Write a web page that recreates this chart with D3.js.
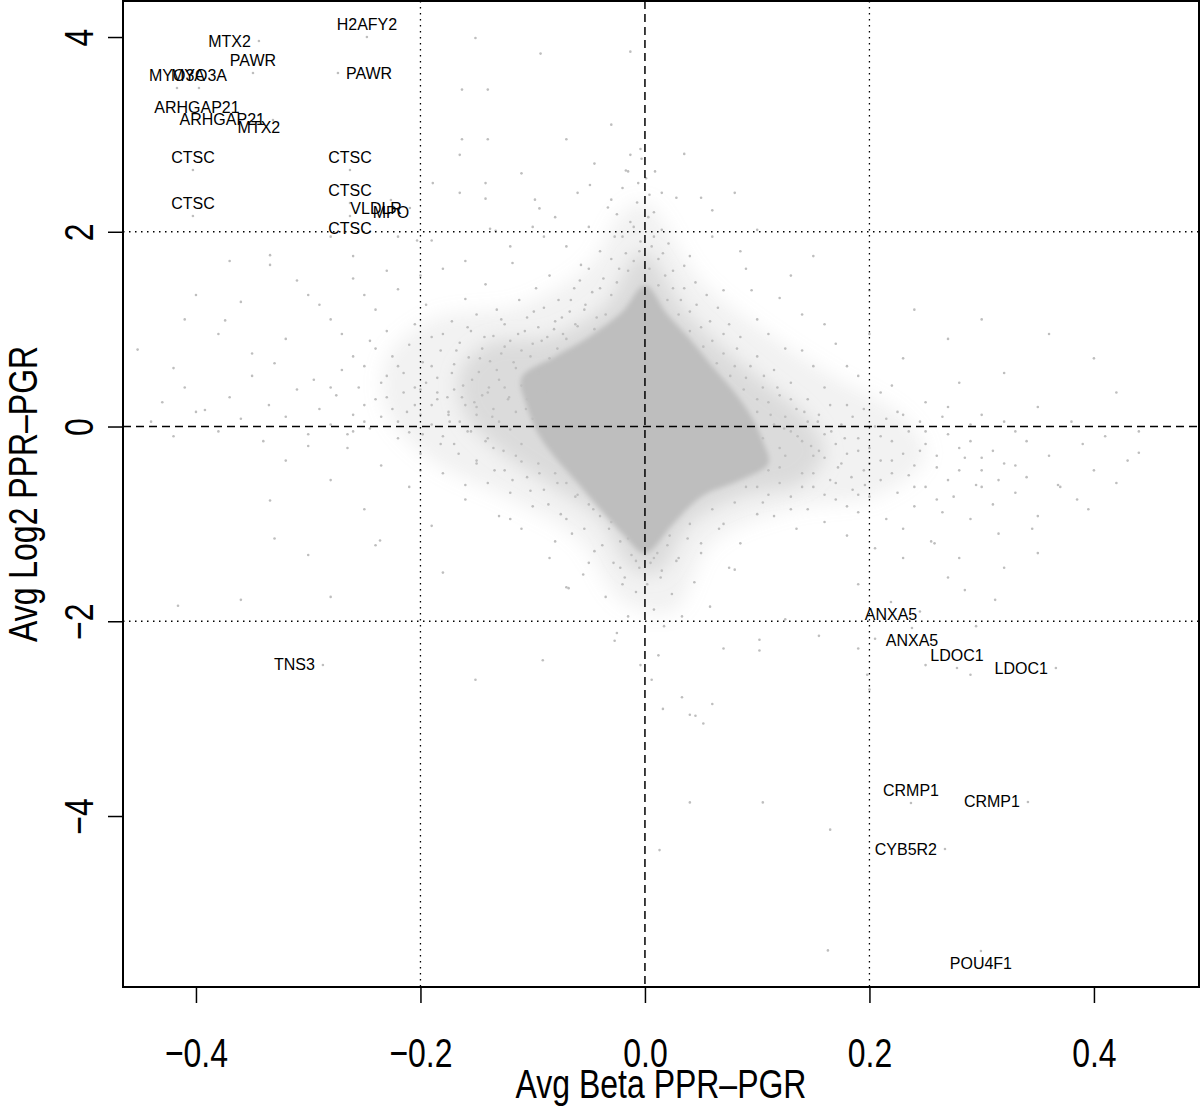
<!DOCTYPE html>
<html><head><meta charset="utf-8">
<script src="https://cdn.jsdelivr.net/npm/d3@7"></script>
<style>body{margin:0;background:#fff}svg{display:block}</style>
</head><body>
<svg id="c" width="1200" height="1108"></svg>
<script>
// ---- data (Avg Beta, Avg Log2) ----
const xTicks = [-0.4, -0.2, 0.0, 0.2, 0.4];
const xTickLabels = ["\u22120.4", "\u22120.2", "0.0", "0.2", "0.4"];
const yTicks = [4, 2, 0, -2, -4];
const yTickLabels = ["4", "2", "0", "\u22122", "\u22124"];
const xTitle = "Avg Beta PPR\u2013PGR";
const yTitle = "Avg Log2 PPR\u2013PGR";
const vLinesDotted = [-0.2, 0.2];
const hLinesDotted = [-2, 2];

// outlines of the point cloud where points overlap (solid core, dense and sparse halos)
const coreOutline = [[0,1.45],[0.02,1.15],[0.04,0.9],[0.06,0.62],[0.08,0.35],[0.095,0.1],[0.105,-0.15],[0.11,-0.38],[0.085,-0.55],[0.05,-0.72],[0.025,-1.0],[0,-1.3],[-0.02,-1.1],[-0.04,-0.85],[-0.06,-0.58],[-0.08,-0.32],[-0.095,-0.08],[-0.105,0.2],[-0.11,0.5],[-0.08,0.72],[-0.05,0.92],[-0.02,1.18]];
const midOutline = [[0,1.8],[0.035,1.2],[0.07,0.8],[0.11,0.42],[0.145,0.08],[0.16,-0.28],[0.14,-0.58],[0.085,-0.72],[0.04,-1.0],[0.012,-1.5],[-0.012,-1.45],[-0.04,-0.95],[-0.085,-0.6],[-0.13,-0.25],[-0.16,0.12],[-0.165,0.55],[-0.14,0.85],[-0.085,0.92],[-0.035,1.25],[-0.012,1.7]];
const outerOutline = [[0,2.3],[0.05,1.5],[0.11,0.95],[0.17,0.5],[0.23,0.1],[0.25,-0.3],[0.21,-0.7],[0.13,-0.85],[0.06,-1.2],[0.025,-1.9],[-0.02,-1.8],[-0.06,-1.15],[-0.12,-0.75],[-0.19,-0.35],[-0.23,0.15],[-0.23,0.7],[-0.19,1.1],[-0.11,1.25],[-0.05,1.65],[-0.02,2.2]];

const ptsUpperLeft = [[-0.30,1.35],[-0.28,1.10],[-0.27,0.95],[-0.26,1.52],[-0.25,0.62],[-0.245,0.88],[-0.24,1.20],[-0.235,0.45],[-0.23,0.98],[-0.225,0.72],[-0.22,1.41],[-0.215,0.55],[-0.21,0.84],[-0.205,1.05],[-0.20,0.38],[-0.198,0.66],[-0.195,1.25],[-0.19,0.92],[-0.185,0.50],[-0.182,0.78],[-0.18,1.62],[-0.176,0.30],[-0.172,1.08],[-0.17,0.64],[-0.165,0.86],[-0.162,0.42],[-0.16,1.31],[-0.157,0.71],[-0.155,0.98],[-0.152,0.25],[-0.15,1.15],[-0.148,0.56],[-0.145,0.80],[-0.142,1.46],[-0.14,0.35],[-0.138,0.67],[-0.135,0.93],[-0.132,1.20],[-0.13,0.48],[-0.128,0.75],[-0.125,1.05],[-0.122,0.28],[-0.12,0.88],[-0.118,1.68],[-0.115,0.60],[-0.112,1.30],[-0.11,0.78],[-0.107,0.98],[-0.105,1.12],[-0.10,0.85],[-0.097,1.42],[-0.095,1.02],[-0.09,1.22],[-0.087,0.92],[-0.085,1.55],[-0.08,1.08],[-0.077,1.30],[-0.073,0.95],[-0.07,1.85],[-0.067,1.18],[-0.063,1.42],[-0.06,1.03],[-0.057,1.66],[-0.053,1.25],[-0.05,2.05],[-0.047,1.38],[-0.043,1.12],[-0.04,1.80],[-0.037,1.52],[-0.033,2.25],[-0.03,1.35],[-0.027,1.95],[-0.023,1.62],[-0.02,2.45],[-0.017,1.78],[-0.013,2.10],[-0.01,1.70],[-0.007,2.30],[-0.004,1.90]];
const ptsUpperRight = [[0.003,2.15],[0.006,1.85],[0.009,2.62],[0.012,1.72],[0.015,2.02],[0.018,1.55],[0.021,1.88],[0.025,1.42],[0.028,2.35],[0.032,1.30],[0.035,1.65],[0.04,1.18],[0.045,1.48],[0.05,1.02],[0.055,1.35],[0.06,0.88],[0.065,1.22],[0.07,0.75],[0.075,1.05],[0.08,0.62],[0.085,0.92],[0.09,0.50],[0.095,1.40],[0.10,0.72],[0.105,0.40],[0.11,0.95],[0.115,0.58],[0.12,0.32],[0.125,0.80],[0.13,0.45],[0.14,1.15],[0.145,0.28],[0.15,0.62],[0.16,0.40],[0.17,0.85],[0.18,0.22],[0.19,0.52],[0.21,0.35],[0.23,0.70],[0.25,0.25],[0.28,0.45],[0.06,1.95],[0.09,1.62],[0.12,1.32],[0.16,1.05],[0.20,0.95],[0.24,1.20],[0.035,2.80],[0.08,2.40],[0.15,1.75],[0.27,0.90],[0.32,0.55],[0.35,0.20],[0.30,1.10]];
const ptsLowerRight = [[0.10,-0.62],[0.105,-0.78],[0.11,-0.45],[0.115,-0.92],[0.12,-0.58],[0.125,-0.30],[0.13,-0.72],[0.135,-1.05],[0.14,-0.48],[0.145,-0.85],[0.15,-0.62],[0.155,-0.25],[0.16,-0.98],[0.165,-0.55],[0.17,-0.75],[0.175,-0.38],[0.18,-1.12],[0.185,-0.65],[0.19,-0.88],[0.195,-0.45],[0.20,-0.72],[0.205,-1.25],[0.21,-0.55],[0.215,-0.95],[0.22,-0.35],[0.225,-0.68],[0.23,-1.05],[0.235,-0.50],[0.24,-0.82],[0.245,-0.25],[0.25,-0.62],[0.255,-1.18],[0.26,-0.42],[0.265,-0.88],[0.27,-0.55],[0.275,-0.72],[0.28,-1.35],[0.285,-0.32],[0.29,-0.95],[0.295,-0.60],[0.30,-0.45],[0.31,-0.80],[0.315,-1.10],[0.32,-0.38],[0.33,-0.68],[0.34,-0.52],[0.35,-0.92],[0.36,-0.30],[0.37,-0.62],[0.385,-0.75],[0.40,-0.45],[0.42,-0.58],[0.44,-0.27],[0.368,-0.60],[0.312,-1.78],[0.285,-1.68],[0.258,-1.20],[0.315,-0.55],[0.39,-0.18],[0.41,-0.10],[0.38,0.05],[0.30,0.12],[0.33,-0.05]];
const ptsLowerLeft = [[-0.005,-1.45],[-0.008,-1.70],[-0.012,-1.32],[-0.015,-1.95],[-0.018,-1.55],[-0.022,-1.18],[-0.025,-2.12],[-0.028,-1.40],[-0.032,-1.05],[-0.035,-1.75],[-0.04,-0.92],[-0.045,-1.28],[-0.05,-0.80],[-0.055,-1.52],[-0.06,-0.70],[-0.065,-1.10],[-0.07,-0.58],[-0.075,-0.90],[-0.08,-0.48],[-0.085,-1.35],[-0.09,-0.65],[-0.095,-0.38],[-0.10,-0.82],[-0.105,-0.52],[-0.11,-1.05],[-0.115,-0.30],[-0.12,-0.68],[-0.125,-0.45],[-0.13,-0.92],[-0.135,-0.22],[-0.14,-0.58],[-0.15,-0.35],[-0.16,-0.75],[-0.17,-0.18],[-0.18,-0.48],[-0.19,-1.02],[-0.20,-0.28],[-0.21,-0.62],[-0.22,-0.12],[-0.235,-0.40],[-0.25,-0.85],[-0.265,-0.22],[-0.28,-0.55],[-0.30,-0.08],[-0.32,-0.35],[-0.236,-1.17],[-0.24,-1.22],[-0.334,-0.76],[-0.151,-2.60],[-0.091,-2.40],[-0.068,-1.66],[-0.027,-2.20]];
const ptsBandLeft = [[-0.44,0.05],[-0.43,0.25],[-0.42,-0.10],[-0.41,0.40],[-0.40,0.15],[-0.392,0.17],[-0.38,-0.05],[-0.37,0.30],[-0.36,0.08],[-0.35,0.52],[-0.34,-0.15],[-0.335,0.22],[-0.33,0.65],[-0.32,0.10],[-0.31,0.38],[-0.30,-0.20],[-0.295,0.48],[-0.29,0.18],[-0.28,0.02],[-0.275,0.32],[-0.27,0.58],[-0.265,-0.08],[-0.26,0.12],[-0.255,0.40],[-0.25,0.22],[-0.245,-0.02],[-0.24,0.28],[-0.235,0.10],[-0.23,0.52],[-0.225,0.18],[-0.22,0.05],[-0.215,0.35],[-0.21,-0.06],[-0.205,0.22],[-0.20,0.12],[-0.195,0.45],[-0.19,0.02],[-0.185,0.28],[-0.18,-0.10],[-0.175,0.15],[-0.17,0.38],[-0.165,0.05],[-0.16,0.22],[-0.155,-0.05],[-0.15,0.12],[-0.145,0.32],[-0.14,-0.12],[-0.135,0.18],[-0.13,0.05],[-0.125,0.40],[-0.12,-0.03],[-0.115,0.15],[-0.11,-0.18],[-0.105,0.28],[-0.10,0.08]];
const ptsBandRight = [[0.10,0.15],[0.105,-0.12],[0.11,0.25],[0.115,0.02],[0.12,-0.22],[0.125,0.10],[0.13,-0.05],[0.135,0.18],[0.14,-0.15],[0.145,0.05],[0.15,-0.30],[0.155,0.12],[0.16,-0.08],[0.165,0.22],[0.17,-0.18],[0.175,0.02],[0.18,-0.28],[0.185,0.10],[0.19,-0.12],[0.195,0.18],[0.20,-0.22],[0.205,0.00],[0.21,-0.35],[0.215,0.08],[0.22,-0.15],[0.225,0.15],[0.23,-0.28],[0.235,-0.05],[0.24,-0.40],[0.245,0.05],[0.25,-0.18],[0.26,-0.30],[0.265,0.10],[0.27,-0.08],[0.28,-0.22],[0.29,0.02],[0.30,-0.32]];
const ptsMid = [[-0.19,0.62],[-0.185,0.35],[-0.18,0.95],[-0.175,0.12],[-0.172,0.55],[-0.168,0.78],[-0.163,0.30],[-0.158,1.02],[-0.154,0.48],[-0.15,0.20],[-0.147,0.70],[-0.143,0.92],[-0.139,0.40],[-0.136,0.10],[-0.132,0.58],[-0.128,1.10],[-0.125,0.82],[-0.121,0.30],[-0.117,0.66],[-0.113,0.95],[-0.11,0.42],[-0.106,0.18],[-0.102,0.72],[-0.099,1.18],[-0.095,0.55],[-0.092,0.88],[-0.088,0.36],[-0.085,0.70],[-0.081,1.00],[-0.078,0.80],[-0.074,1.12],[-0.07,0.90],[-0.066,1.30],[-0.062,1.05],[-0.058,1.50],[-0.054,1.20],[-0.05,1.62],[-0.045,1.00],[-0.04,1.42],[-0.035,1.15],[-0.03,1.72],[-0.025,1.48],[-0.02,1.95],[-0.015,1.60],[-0.01,2.05],[-0.005,1.80],[0.004,1.62],[0.008,1.95],[0.012,1.45],[0.016,1.78],[0.02,1.30],[0.025,1.60],[0.03,1.15],[0.035,1.42],[0.04,0.98],[0.046,1.25],[0.052,0.82],[0.058,1.08],[0.064,0.65],[0.07,0.95],[0.076,0.52],[0.082,0.80],[0.088,0.38],[0.094,0.62],[0.10,0.28],[0.106,0.52],[0.112,0.12],[0.118,0.40],[0.124,-0.02],[0.13,0.28],[0.136,-0.10],[0.142,0.15],[0.148,-0.20],[0.154,0.05],[0.16,-0.32],[0.166,-0.05],[0.172,-0.42],[0.178,-0.12],[0.184,-0.52],[0.19,-0.25],[0.196,-0.60],[0.20,-0.38],[0.19,-0.70],[0.18,-0.82],[0.17,-0.58],[0.16,-0.70],[0.15,-0.48],[0.14,-0.62],[0.13,-0.85],[0.12,-0.42],[0.11,-0.70],[0.1,-0.90],[0.09,-0.62],[0.08,-0.78],[0.07,-1.00],[0.06,-0.85],[0.05,-1.20],[0.04,-1.00],[0.03,-1.35],[0.022,-1.12],[0.015,-1.48],[0.008,-1.35],[-0.008,-1.38],[-0.015,-1.15],[-0.022,-1.45],[-0.03,-0.98],[-0.038,-1.22],[-0.046,-0.85],[-0.054,-1.05],[-0.062,-0.72],[-0.07,-0.95],[-0.078,-0.58],[-0.086,-0.80],[-0.094,-0.48],[-0.102,-0.66],[-0.11,-0.36],[-0.118,-0.55],[-0.126,-0.25],[-0.134,-0.45],[-0.142,-0.15],[-0.15,-0.38],[-0.158,-0.05],[-0.166,-0.28],[-0.174,0.05],[-0.182,-0.18],[-0.19,0.22],[-0.198,-0.08],[-0.205,0.40],[-0.212,0.15],[-0.22,0.62],[-0.23,0.30],[-0.24,0.80],[-0.25,0.05],[0.21,-0.10],[0.22,-0.48],[0.23,0.12],[0.24,-0.62],[0.25,-0.05],[0.26,-0.75],[0.27,0.20],[0.28,-0.45],[0.29,-0.15],[0.30,-0.62],[0.31,-0.25],[0.32,0.05],[0.33,-0.40],[0.34,-0.15],[0.22,0.42],[0.18,0.62],[0.14,0.78],[0.10,1.10],[0.07,1.40],[0.04,1.75],[-0.12,-0.95],[-0.08,-1.18],[-0.05,-1.40],[-0.16,-0.60],[-0.2,-0.45],[-0.26,-0.05],[-0.28,0.40],[-0.26,0.72]];
const ptsLowerSparse = [[0.002,-1.62],[0.005,-1.40],[0.008,-1.88],[0.011,-1.30],[0.014,-1.55],[0.017,-2.05],[0.02,-1.22],[0.024,-1.72],[0.028,-1.38],[0.033,-1.95],[0.038,-1.15],[0.044,-1.60],[0.05,-1.30],[0.058,-1.85],[0.066,-1.05],[0.075,-1.45],[0.085,-1.20],[0.08,-1.47],[0.012,-2.35],[0.006,-2.60],[-0.004,-2.45],[0.016,-2.90],[0.04,-2.96],[0.045,-2.97],[0.033,-2.78],[0.052,-3.05],[0.06,-2.85],[0.105,-3.86],[0.04,-3.86],[0.013,-4.35],[0.165,-4.14],[0.163,-5.38],[0.102,-2.19],[0.102,-2.30],[0.155,-2.15],[0.19,-2.28],[0.198,-2.55],[0.20,-2.70],[-0.07,-1.65],[-0.02,-1.62],[0.125,-1.98],[0.07,-2.28],[0.25,-2.45],[0.29,-2.55],[-0.18,-1.50],[-0.28,-1.75],[-0.36,-1.78],[-0.416,-1.84],[-0.33,-1.15],[-0.30,-1.32],[0.36,0.95],[0.42,0.35],[0.44,-0.05],[0.43,-0.35],[0.40,0.70],[0.35,-1.30],[0.32,-1.45],[0.27,-1.55],[0.23,-1.35],[0.245,-1.90],[0.19,-1.62],[0.205,-2.18],[0.295,-2.05],[0.345,-1.05],[0.395,-0.85]];
const ptsUpperSparse = [[-0.003,2.75],[0.001,2.55],[-0.006,2.50],[0.004,2.38],[-0.015,2.62],[-0.025,2.18],[0.008,2.20],[-0.013,2.79],[-0.017,2.63],[-0.049,2.48],[-0.030,2.33],[-0.004,2.85],[0.015,2.40],[0.10,2.02],[0.05,2.35],[0.085,1.80],[0.13,1.55],[0.20,1.40],[0.06,2.22],[-0.151,3.99],[-0.093,3.83],[-0.013,3.85],[-0.140,3.46],[-0.163,3.46],[-0.163,2.95],[-0.140,2.95],[-0.165,2.79],[-0.189,2.50],[-0.165,2.40],[-0.142,2.50],[-0.142,2.34],[-0.098,2.33],[-0.094,2.24],[-0.19,1.91],[-0.203,1.91],[-0.138,2.03],[-0.133,2.01],[-0.334,1.76],[-0.334,1.66],[-0.37,1.70],[-0.40,1.35],[-0.374,1.09],[-0.452,0.79],[-0.41,1.10],[-0.36,1.28],[-0.31,1.50],[-0.26,1.75],[-0.23,1.60],[-0.28,1.95],[-0.22,1.95],[-0.12,1.85],[-0.09,1.95],[-0.08,2.15],[-0.10,2.05],[-0.06,2.40],[-0.11,2.60],[-0.045,2.70],[-0.07,2.95],[-0.03,3.10],[-0.20,1.55],[-0.16,1.70],[-0.32,0.90],[-0.35,0.75],[-0.42,0.60],[-0.38,0.95],[-0.29,1.25],[-0.25,1.35]];

// labelled genes: name, beta, log2, R text position (1 below, 2 left, 3 above, 4 right)
const geneNames = ["H2AFY2","MTX2","PAWR","PAWR","MYO3A","MYO3A","ARHGAP21","ARHGAP21","MTX2","CTSC","CTSC","CTSC","CTSC","VLDLR","MPO","CTSC","ANXA5","ANXA5","LDOC1","LDOC1","CRMP1","CRMP1","CYB5R2","POU4F1","TNS3"];
const geneBeta  = [-0.2477,-0.3439,-0.3492,-0.2735,-0.4169,-0.3973,-0.3991,-0.3314,-0.3439,-0.4027,-0.4027,-0.2628,-0.2628,-0.2094,-0.2263,-0.2628,0.2192,0.2379,0.2780,0.3661,0.2370,0.3412,0.2673,0.2993,-0.2869];
const geneLog2  = [4.000,3.959,3.630,3.630,3.476,3.476,3.148,3.148,3.199,2.634,2.162,2.634,2.295,2.244,2.326,2.162,-1.802,-2.069,-2.480,-2.480,-3.866,-3.856,-4.339,-5.386,-2.449];
const genePos   = [3,2,3,4,3,3,3,2,1,3,3,3,3,2,1,1,1,1,3,2,3,2,2,1,2];

// ---- drawing ----
const svg = d3.select("#c");
const L = 123, R = 1199, T = 1, B = 987;
const x = d3.scaleLinear().domain([-0.465, 0.4936]).range([L, R]);
const y = d3.scaleLinear().domain([4.370, -5.756]).range([T, B]);
const grey = "#bebebe";
const axisFont = "'Liberation Sans', Arial, Helvetica, sans-serif";

const defs = svg.append("defs");
defs.append("filter").attr("id", "soft").attr("x", "-20%").attr("y", "-20%").attr("width", "140%").attr("height", "140%")
  .append("feGaussianBlur").attr("stdDeviation", 9);
defs.append("filter").attr("id", "softCore").attr("x", "-20%").attr("y", "-20%").attr("width", "140%").attr("height", "140%")
  .append("feGaussianBlur").attr("stdDeviation", 2.5);

const g = svg.append("g");
const line = d3.line().x(d => x(d[0])).y(d => y(d[1])).curve(d3.curveCatmullRomClosed.alpha(0.5));
g.append("path").attr("d", line(outerOutline)).attr("fill", grey).attr("fill-opacity", 0.2).attr("filter", "url(#soft)");
g.append("path").attr("d", line(midOutline)).attr("fill", grey).attr("fill-opacity", 0.45).attr("filter", "url(#soft)");
g.append("path").attr("d", line(coreOutline)).attr("fill", grey).attr("filter", "url(#softCore)");

const allPts = [].concat(ptsUpperLeft, ptsUpperRight, ptsLowerRight, ptsLowerLeft, ptsBandLeft, ptsBandRight, ptsMid, ptsLowerSparse, ptsUpperSparse);
g.selectAll("circle.p").data(allPts).join("circle").attr("class","p")
  .attr("cx", d => x(d[0])).attr("cy", d => y(d[1])).attr("r", 1.3).attr("fill", grey);
g.selectAll("circle.gp").data(geneNames.map((n,i)=>i)).join("circle").attr("class","gp")
  .attr("cx", i => x(geneBeta[i])).attr("cy", i => y(geneLog2[i])).attr("r", 1.3).attr("fill", grey);

// reference lines
const ref = svg.append("g").attr("stroke", "#000").attr("fill", "none");
vLinesDotted.forEach(v => ref.append("line").attr("x1", x(v)).attr("x2", x(v)).attr("y1", T).attr("y2", B)
  .attr("stroke-width", 1.3).attr("stroke-dasharray", "1.5,4.5"));
hLinesDotted.forEach(v => ref.append("line").attr("x1", L).attr("x2", R).attr("y1", y(v)).attr("y2", y(v))
  .attr("stroke-width", 1.3).attr("stroke-dasharray", "1.5,4.5"));
ref.append("line").attr("x1", x(0)).attr("x2", x(0)).attr("y1", T).attr("y2", B).attr("stroke-width", 1.5).attr("stroke-dasharray", "8,5");
ref.append("line").attr("x1", L).attr("x2", R).attr("y1", y(0)).attr("y2", y(0)).attr("stroke-width", 1.5).attr("stroke-dasharray", "8,5");

// gene labels
const lab = svg.append("g").attr("font-family", axisFont).attr("font-size", 16).attr("fill", "#000");
geneNames.forEach((n, i) => {
  const px = x(geneBeta[i]), py = y(geneLog2[i]), p = genePos[i];
  let tx = px, ty = py, anchor = "middle";
  if (p === 1) ty = py + 12.7;
  if (p === 3) ty = py - 12.7;
  if (p === 2) { tx = px - 8; anchor = "end"; }
  if (p === 4) { tx = px + 8; anchor = "start"; }
  lab.append("text").attr("x", tx).attr("y", ty).attr("text-anchor", anchor)
    .attr("dominant-baseline", "central").text(n);
});

// box
svg.append("rect").attr("x", L).attr("y", T).attr("width", R - L).attr("height", B - T)
  .attr("fill", "none").attr("stroke", "#000").attr("stroke-width", 2);

// x axis
const xa = svg.append("g").attr("transform", `translate(0,${B})`)
  .call(d3.axisBottom(x).tickValues(xTicks).tickSize(16).tickFormat((d,i) => xTickLabels[i]));
xa.select(".domain").attr("d", `M${x(xTicks[0])},0H${x(xTicks[xTicks.length-1])}`).attr("stroke-width", 1.5);
xa.selectAll(".tick line").attr("stroke-width", 1.5);
xa.selectAll(".tick text").attr("font-family", axisFont).attr("font-size", 41).attr("fill", "#000")
  .attr("dy", null).attr("y", 0)
  .attr("transform", "translate(0,80) scale(0.78,1)");

// y axis
const ya = svg.append("g").attr("transform", `translate(${L},0)`)
  .call(d3.axisLeft(y).tickValues(yTicks).tickSize(15).tickFormat((d,i) => yTickLabels[i]));
ya.select(".domain").attr("d", `M0,${y(yTicks[0])}V${y(yTicks[yTicks.length-1])}`).attr("stroke-width", 1.5);
ya.selectAll(".tick line").attr("stroke-width", 1.5);
ya.selectAll(".tick text").attr("font-family", axisFont).attr("font-size", 41).attr("fill", "#000")
  .attr("x", 0).attr("dy", null).attr("text-anchor", "middle")
  .attr("transform", "translate(-30,0) rotate(-90) scale(0.78,1)");

// titles
svg.append("text").attr("font-family", axisFont).attr("font-size", 41).attr("text-anchor", "middle")
  .attr("transform", `translate(${(L+R)/2},1098) scale(0.78,1)`).text(xTitle);
svg.append("text").attr("font-family", axisFont).attr("font-size", 41).attr("text-anchor", "middle")
  .attr("transform", `translate(37,${(T+B)/2}) rotate(-90) scale(0.78,1)`).text(yTitle);
</script>
</body></html>
